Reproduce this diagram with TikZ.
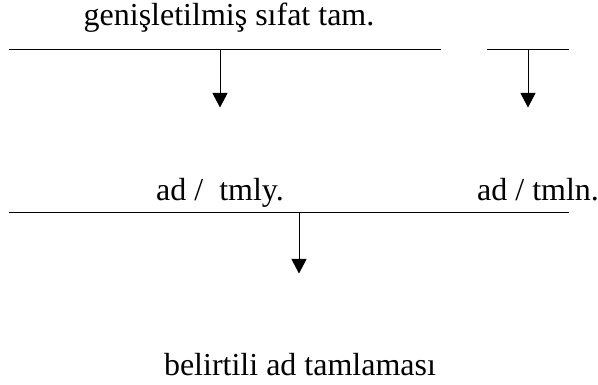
\documentclass[tikz,border=0pt]{standalone}
\usepackage{fontspec}
\setmainfont{Liberation Serif}
\usetikzlibrary{arrows.meta}
\begin{document}
\begin{tikzpicture}[x=1pt,y=-1pt,
  label/.style={inner sep=0pt,font=\fontsize{32}{38}\selectfont},
  bar/.style={line width=1pt},
  down/.style={line width=1pt,-{Triangle[width=15pt,length=14.5pt]}}]
\useasboundingbox (0,0) rectangle (598,385);

% texts
\node[label,anchor=base] (top) at (229,25.5) {genişletilmiş sıfat tam.};
\node[label,anchor=base west] (tmly) at (156,200.7) {ad /\ \ tmly.};
\node[label,anchor=base west] (tmln) at (477,200.7) {ad / tmln.};
\node[label,anchor=base] (res) at (300,375) {belirtili ad tamlaması};

% bars
\coordinate (b1l) at (9,50);    \coordinate (b1r) at (441,50);
\coordinate (b2l) at (487,49.5); \coordinate (b2r) at (569,49.5);
\coordinate (b3l) at (9,212.7); \coordinate (b3r) at (569,212.7);
\draw[bar] (b1l) -- (b1r);
\draw[bar] (b2l) -- (b2r);
\draw[bar] (b3l) -- (b3r);

% arrows
\coordinate (a1s) at (220,50);    \coordinate (a1e) at (220,107.5);
\coordinate (a2s) at (528,49.5);  \coordinate (a2e) at (528,107.5);
\coordinate (a3s) at (299,212.7); \coordinate (a3e) at (299,273.5);
\draw[down] (a1s) -- (a1e);
\draw[down] (a2s) -- (a2e);
\draw[down] (a3s) -- (a3e);
\end{tikzpicture}
\end{document}
